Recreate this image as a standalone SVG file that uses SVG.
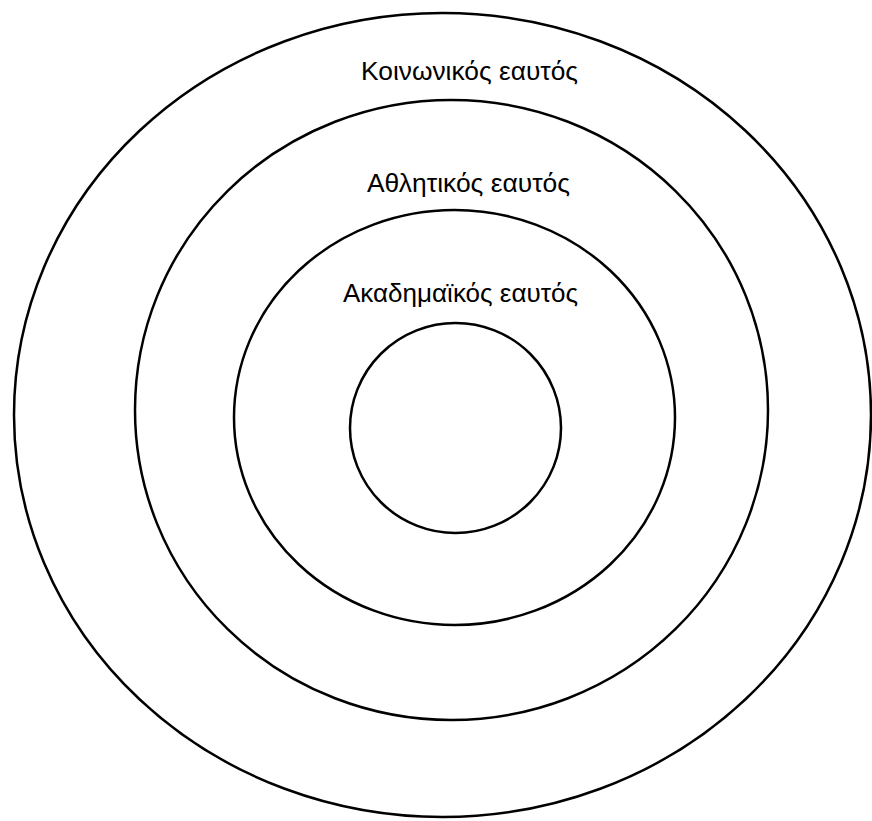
<svg xmlns="http://www.w3.org/2000/svg" width="872" height="821" viewBox="0 0 872 821">
<style>
.ring{fill:none;stroke:#000;stroke-width:2.5}
.lbl{font-family:"Liberation Sans",Arial,sans-serif;font-size:25px;fill:#000}
</style>
<rect width="872" height="821" fill="#fff"/>
<g id="social"><ellipse class="ring" cx="442.5" cy="415" rx="428.5" ry="402"/><text class="lbl" x="361" y="80" textLength="217" lengthAdjust="spacingAndGlyphs">Κοινωνικός εαυτός</text></g>
<g id="athletic"><ellipse class="ring" cx="451.5" cy="410" rx="316.5" ry="310"/><text class="lbl" x="367" y="192" textLength="203" lengthAdjust="spacingAndGlyphs">Αθλητικός εαυτός</text></g>
<g id="academic"><ellipse class="ring" cx="454.5" cy="417.5" rx="220.5" ry="207.5"/><text class="lbl" x="343" y="302" textLength="235" lengthAdjust="spacingAndGlyphs">Ακαδημαϊκός εαυτός</text></g>
<g id="core"><ellipse class="ring" cx="455.5" cy="428" rx="105.5" ry="105"/></g>
<g id="connectors"></g>
</svg>
